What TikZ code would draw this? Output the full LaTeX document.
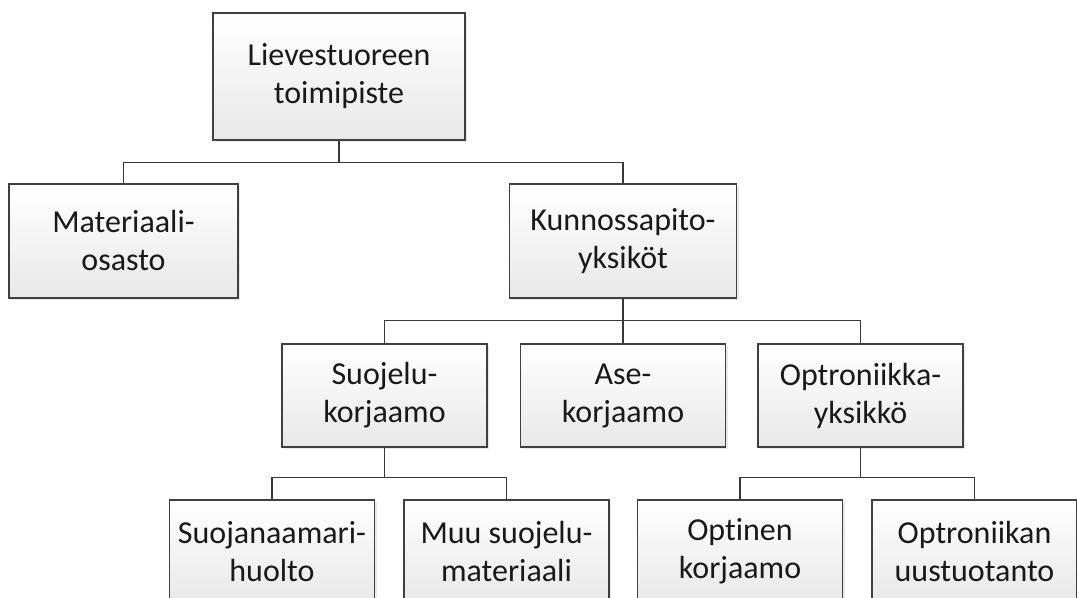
\documentclass[tikz,border=0pt]{standalone}
\usepackage{fontspec}
\setmainfont[Ligatures=NoCommon]{Carlito}
\usetikzlibrary{shadows}

\begin{document}
\begin{tikzpicture}[x=0.75pt,y=-0.75pt,
    yksikko/.style={draw=black!75,line width=1.1pt,top color=white,bottom color=black!9,
      drop shadow={opacity=0.18,shadow xshift=1.6pt,shadow yshift=-1.6pt},
      align=center,text=black!90,font=\fontsize{24}{28.5}\selectfont,inner sep=0pt,
      minimum width=153.75pt,minimum height=77.25pt},
    linja/.style={draw=black!78,line width=1pt}]
    \useasboundingbox (0,0) rectangle (1077,598);
    \node[yksikko,minimum width=189pt,minimum height=95.25pt] (lievestuore) at (339,76.5) {Lievestuoreen\\toimipiste};
    \node[yksikko,minimum width=171.5pt,minimum height=85.5pt] (materiaali) at (123.5,241) {Materiaali-\\osasto};
    \node[yksikko,minimum width=170.5pt,minimum height=85.5pt] (kunnossapito) at (623,241) {Kunnossapito-\\yksiköt};
    \node[yksikko] (suojelu) at (384.5,395.5) {Suojelu-\\korjaamo};
    \node[yksikko] (ase) at (623,395.5) {Ase-\\korjaamo};
    \node[yksikko] (optroniikka) at (860.5,395.5) {Optroniikka-\\yksikkö};
    \node[yksikko] (naamari) at (272,551.5) {Suojanaamari-\\huolto};
    \node[yksikko] (muu) at (506.5,551.5) {Muu suojelu-\\materiaali};
    \node[yksikko] (optinen) at (740,551.5) {Optinen\\korjaamo};
    \node[yksikko] (uustuotanto) at (974.5,551.5) {Optroniikan\\uustuotanto};
    \draw[linja] (lievestuore.south) -- ++(0,22) -| (materiaali.north);
    \draw[linja] (lievestuore.south) -- ++(0,22) -| (kunnossapito.north);
    \draw[linja] (kunnossapito.south) -- ++(0,21.5) -| (suojelu.north);
    \draw[linja] (kunnossapito.south) -- (ase.north);
    \draw[linja] (kunnossapito.south) -- ++(0,21.5) -| (optroniikka.north);
    \draw[linja] (suojelu.south) -- ++(0,30) -| (naamari.north);
    \draw[linja] (suojelu.south) -- ++(0,30) -| (muu.north);
    \draw[linja] (optroniikka.south) -- ++(0,30) -| (optinen.north);
    \draw[linja] (optroniikka.south) -- ++(0,30) -| (uustuotanto.north);
  \end{tikzpicture}
\end{document}
